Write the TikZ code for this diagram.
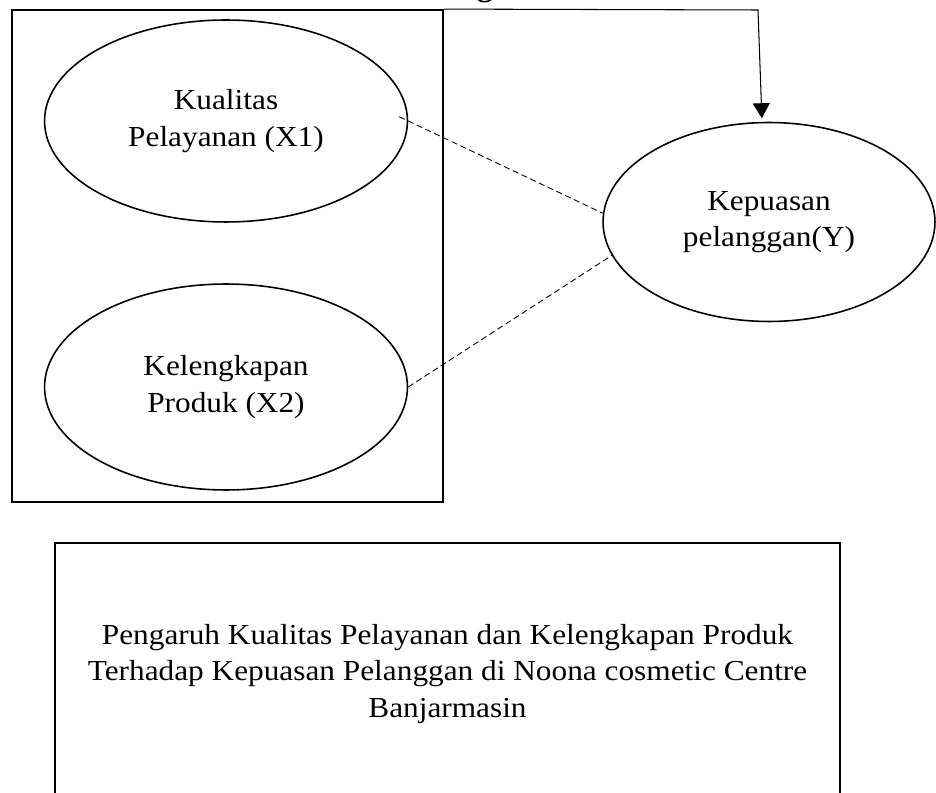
\documentclass[tikz,border=0pt]{standalone}
\usepackage{fontspec}
\setmainfont{Liberation Serif}[FakeStretch=1.08]
\usetikzlibrary{shapes.geometric,arrows.meta}
\begin{document}
\begin{tikzpicture}[x=0.02cm,y=-0.02cm]
\tikzstyle{every node}=[font=\fontsize{16.5}{20.6}\selectfont,align=center,inner sep=0pt]
\tikzstyle{variabel}=[draw,ellipse,line width=0.9pt]
\tikzstyle{kotak}=[draw,rectangle,line width=1.1pt]
\tikzstyle{putus}=[dash pattern=on 3.5pt off 2pt,line width=0.5pt]
\useasboundingbox (0,0) rectangle (936,793);
% heading cut off at the top of the page
\node[font=\fontsize{16.5}{20.6}\selectfont\bfseries,anchor=base] (judulatas) at (485,-3) {g};
\node[kotak,minimum width=8.62cm,minimum height=9.84cm] (frame) at (227.5,256) {};
\node[variabel,minimum width=7.26cm,minimum height=4.04cm] (pelayanan) at (226,121) {Kualitas\\Pelayanan (X1)};
\node[variabel,minimum width=7.26cm,minimum height=4.12cm] (produk) at (226,387) {Kelengkapan\\Produk (X2)};
\node[variabel,minimum width=6.64cm,minimum height=3.98cm] (kepuasan) at (769,222) {Kepuasan\\pelanggan(Y)};
\coordinate (siku) at (758,10);
\draw[line width=0.6pt,shorten >=2pt,-{Triangle[width=0.34cm,length=0.3cm]}] (frame.north east) -- (siku) -- ([xshift=-0.14cm]kepuasan.north);
\draw[putus,shorten <=-0.2cm] (pelayanan.east) -- (kepuasan.177);
\draw[putus] (produk.east) -- (kepuasan.192);
\node[kotak,minimum width=15.7cm,minimum height=5.24cm] (judul) at (447.5,674) {Pengaruh Kualitas Pelayanan dan Kelengkapan Produk\\Terhadap Kepuasan Pelanggan di Noona cosmetic Centre\\Banjarmasin};
\end{tikzpicture}
\end{document}
